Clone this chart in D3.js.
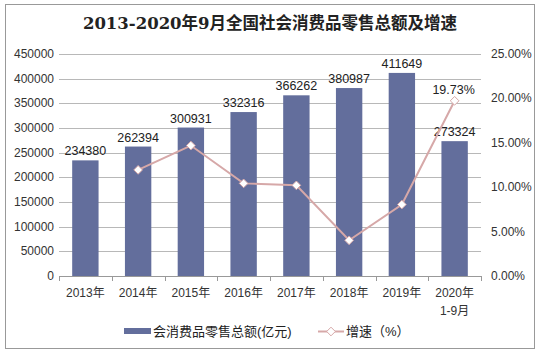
<!DOCTYPE html>
<html>
<head>
<meta charset="utf-8">
<script src="https://cdn.jsdelivr.net/npm/d3@7"></script>
<style>
  body { margin: 0; background: #fff; }
  text { font-family: "Liberation Sans", Arial, "Noto Sans CJK SC", sans-serif; }
</style>
</head>
<body>
<div id="chart"></div>
<script>
const W = 540, H = 354;

// data
const years = ["2013年", "2014年", "2015年", "2016年", "2017年", "2018年", "2019年", "2020年"];
const sales = [234380, 262394, 300931, 332316, 366262, 380987, 411649, 273324];
const growth = [null, 11.95, 14.69, 10.43, 10.21, 4.02, 8.05, 19.73];
const leftTicks = [0, 50000, 100000, 150000, 200000, 250000, 300000, 350000, 400000, 450000];
const rightTicks = [0, 5, 10, 15, 20, 25];

const barColor = "#636e9c";
const lineColor = "#d6a8a8";

const svg = d3.select("#chart")
    .append("svg")
    .attr("width", W)
    .attr("height", H);

// outer frame
svg.append("rect")
    .attr("x", 5.5).attr("y", 4.5)
    .attr("width", 529).attr("height", 344)
    .attr("fill", "none")
    .attr("stroke", "#999");

// title
svg.append("text")
    .attr("x", 270).attr("y", 29)
    .attr("text-anchor", "middle")
    .style("font-family", "'DejaVu Serif', 'Noto Sans CJK SC', serif")
    .style("font-weight", "bold")
    .style("font-size", "16.5px")
    .attr("fill", "#222")
    .text("2013-2020年9月全国社会消费品零售总额及增速");

const plot = { left: 59, right: 481, top: 54, bottom: 276 };

const x = d3.scaleBand()
    .domain(years)
    .range([plot.left, plot.right])
    .paddingInner(0.5)
    .paddingOuter(0.25);

const xBand = d3.scaleBand()
    .domain(years)
    .range([plot.left, plot.right]);

const yL = d3.scaleLinear().domain([0, 450000]).range([plot.bottom, plot.top]);
const yR = d3.scaleLinear().domain([0, 25]).range([plot.bottom, plot.top]);

// gridlines
svg.append("g")
    .selectAll("line")
    .data(leftTicks.slice(1))
    .enter()
    .append("line")
    .attr("x1", plot.left).attr("x2", plot.right)
    .attr("y1", d => Math.round(yL(d)) + 0.5)
    .attr("y2", d => Math.round(yL(d)) + 0.5)
    .attr("stroke", "#b8b8b8");

// left axis labels
svg.append("g")
    .selectAll("text")
    .data(leftTicks)
    .enter()
    .append("text")
    .attr("x", 54)
    .attr("y", d => yL(d) + 4)
    .attr("text-anchor", "end")
    .style("font-size", "12px")
    .attr("fill", "#333")
    .text(d => d);

// right axis labels
svg.append("g")
    .selectAll("text")
    .data(rightTicks)
    .enter()
    .append("text")
    .attr("x", 491)
    .attr("y", d => yR(d) + 4)
    .style("font-size", "12px")
    .attr("fill", "#333")
    .text(d => d.toFixed(2) + "%");

// bars
svg.append("g")
    .selectAll("rect")
    .data(sales)
    .enter()
    .append("rect")
    .attr("x", (d, i) => x(years[i]))
    .attr("y", d => yL(d))
    .attr("width", x.bandwidth())
    .attr("height", d => plot.bottom - yL(d))
    .attr("fill", barColor);

// bar labels
svg.append("g")
    .selectAll("text")
    .data(sales)
    .enter()
    .append("text")
    .attr("x", (d, i) => x(years[i]) + x.bandwidth() / 2)
    .attr("y", d => yL(d) - 5)
    .attr("text-anchor", "middle")
    .style("font-size", "12.5px")
    .attr("fill", "#222")
    .text(d => d);

// x axis
const xa = svg.append("g");
xa.append("line")
    .attr("x1", plot.left).attr("x2", plot.right)
    .attr("y1", plot.bottom + 0.5).attr("y2", plot.bottom + 0.5)
    .attr("stroke", "#999");
xa.selectAll("line.tick")
    .data(years.concat(["end"]))
    .enter()
    .append("line")
    .attr("class", "tick")
    .attr("x1", (d, i) => Math.round(plot.left + i * xBand.bandwidth()) + 0.5)
    .attr("x2", (d, i) => Math.round(plot.left + i * xBand.bandwidth()) + 0.5)
    .attr("y1", plot.bottom)
    .attr("y2", plot.bottom + 5)
    .attr("stroke", "#999");
xa.selectAll("text")
    .data(years)
    .enter()
    .append("text")
    .attr("x", d => xBand(d) + xBand.bandwidth() / 2)
    .attr("y", 297)
    .attr("text-anchor", "middle")
    .style("font-size", "12px")
    .attr("fill", "#333")
    .text(d => d);
xa.append("text")
    .attr("x", xBand("2020年") + xBand.bandwidth() / 2)
    .attr("y", 315)
    .attr("text-anchor", "middle")
    .style("font-size", "12px")
    .attr("fill", "#333")
    .text("1-9月");

// growth line
const pts = growth.map((g, i) => ({ g, year: years[i] })).filter(d => d.g !== null);
const line = d3.line()
    .x(d => xBand(d.year) + xBand.bandwidth() / 2)
    .y(d => yR(d.g));

svg.append("path")
    .datum(pts)
    .attr("d", line)
    .attr("fill", "none")
    .attr("stroke", lineColor)
    .attr("stroke-width", 2);

const diamond = d3.symbol().type(d3.symbolDiamond2).size(48);
svg.append("g")
    .selectAll("path")
    .data(pts)
    .enter()
    .append("path")
    .attr("d", diamond)
    .attr("transform", d => `translate(${xBand(d.year) + xBand.bandwidth() / 2},${yR(d.g)})`)
    .attr("fill", "#fff")
    .attr("stroke", lineColor)
    .attr("stroke-width", 1);

// last growth label
const last = pts[pts.length - 1];
svg.append("text")
    .attr("x", xBand(last.year) + xBand.bandwidth() / 2 - 1)
    .attr("y", yR(last.g) - 7)
    .attr("text-anchor", "middle")
    .style("font-size", "12.5px")
    .attr("fill", "#222")
    .text(last.g.toFixed(2) + "%");

// legend
const lg = svg.append("g");
lg.append("rect")
    .attr("x", 124).attr("y", 328)
    .attr("width", 27).attr("height", 6)
    .attr("fill", barColor);
lg.append("text")
    .attr("x", 153).attr("y", 336)
    .style("font-size", "13px")
    .attr("fill", "#222")
    .text("会消费品零售总额(亿元)");
lg.append("line")
    .attr("x1", 318).attr("x2", 344)
    .attr("y1", 331.5).attr("y2", 331.5)
    .attr("stroke", lineColor)
    .attr("stroke-width", 2);
lg.append("path")
    .attr("d", diamond)
    .attr("transform", "translate(331,331.5)")
    .attr("fill", "#fff")
    .attr("stroke", lineColor);
lg.append("text")
    .attr("x", 346).attr("y", 336)
    .style("font-size", "13px")
    .attr("fill", "#222")
    .text("增速（%）");
</script>
</body>
</html>
